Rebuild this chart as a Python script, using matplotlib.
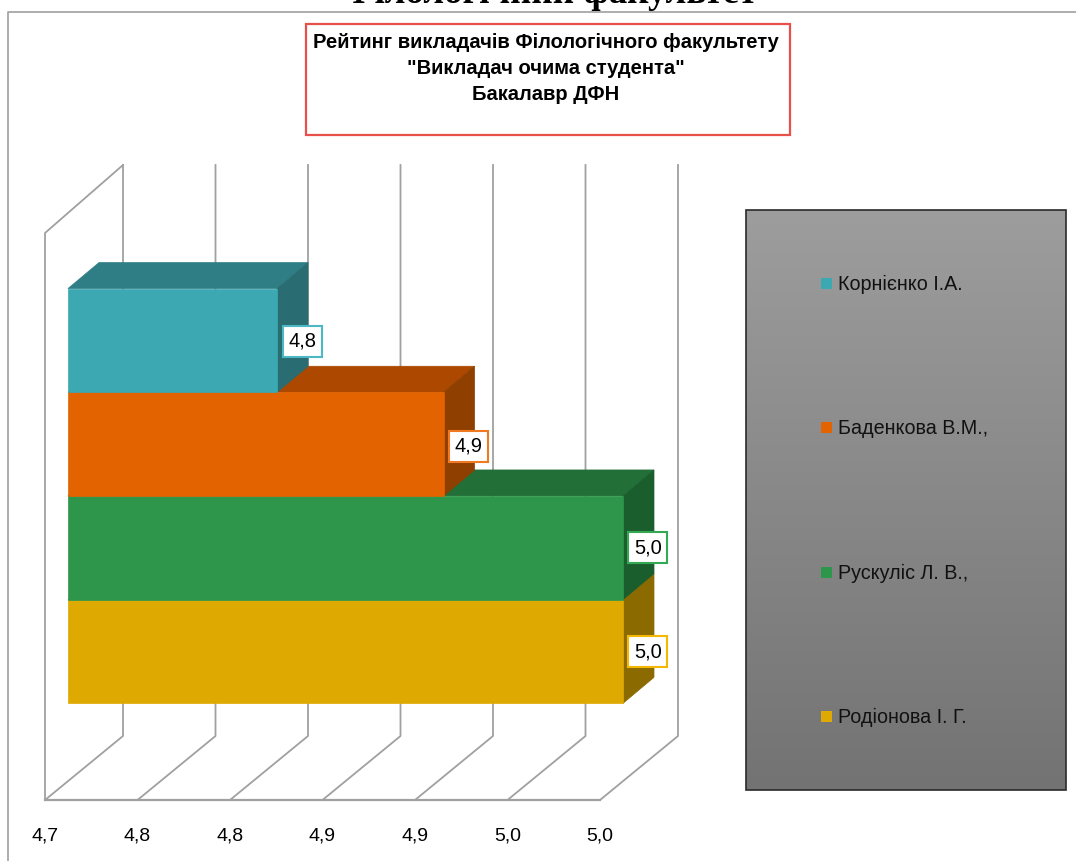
import numpy as np
import matplotlib
matplotlib.use('Agg')
import matplotlib.pyplot as plt
from matplotlib.patches import Polygon, Rectangle

plt.rcParams['font.family'] = ['Liberation Sans', 'DejaVu Sans']

# Data, top bar first
teachers = ['Корнієнко І.А.', 'Баденкова В.М.,', 'Рускуліс Л. В.,', 'Родіонова І. Г.']
scores = [4.813, 4.903, 5.0, 5.0]
score_labels = ['4,8', '4,9', '5,0', '5,0']
tick_values = [4.7, 4.75, 4.8, 4.85, 4.9, 4.95, 5.0]
tick_labels = ['4,7', '4,8', '4,8', '4,9', '4,9', '5,0', '5,0']
front_colors = ['#3ba8b2', '#e26300', '#2e964b', '#dea900']
top_colors = ['#2f7e86', '#ac4800', '#236f38', '#a88000']
side_colors = ['#296c72', '#8f3f00', '#1b5e2e', '#8b6a00']
label_edges = ['#4bb8c4', '#f07a22', '#35a853', '#f5b800']

W, H = 1076, 861
PX_PER_VALUE = 1850.0   # 92.5 px per 0.05
PX_PER_BAR = 103.7
x_base = 4.7 - 68 / PX_PER_VALUE   # value at the left image edge
y_base = 651.5 / PX_PER_BAR        # bar slot at the top image edge

fig = plt.figure(figsize=(W / 100, H / 100), dpi=100)
ax = fig.add_axes([0, 0, 1, 1])
ax.set_xlim(x_base, x_base + W / PX_PER_VALUE)
ax.set_ylim(y_base - H / PX_PER_BAR, y_base)
ax.axis('off')


# helpers to place layout items given in image pixels
def px(x):
    return x_base + x / PX_PER_VALUE


def py(y):
    return y_base - y / PX_PER_BAR


dep_x = 31 / PX_PER_VALUE
dep_y = 26 / PX_PER_BAR

# outer frame of the chart: only left and top show
ax.plot([px(8), px(8), px(W + 5)], [py(H + 5), py(11.5), py(11.5)], color='#a0a0a0', lw=1.2, zorder=1)

# heading cut off by the top edge
ax.text(px(550), py(3), 'Філологічний факультет', family=['Liberation Serif'], weight='bold',
        fontsize=26.6, ha='center', va='baseline', color='black', zorder=2)

# title box
ax.add_patch(Rectangle((px(306), py(135)), 484 / PX_PER_VALUE, 111 / PX_PER_BAR,
                       fc='white', ec='#e8504a', lw=1.6, zorder=2))
title_lines = ['Рейтинг викладачів Філологічного факультету', '"Викладач очима студента"', 'Бакалавр ДФН']
for line, y in zip(title_lines, [43, 69, 95]):
    ax.text(px(546), py(y), line, weight='bold', fontsize=14.5, ha='center', va='center',
            color='black', zorder=3)

# walls and gridlines
grid = '#a0a0a0'
floor_shift = 23 / PX_PER_VALUE
back_x = 78 / PX_PER_VALUE
floor_front, floor_back = py(800), py(736)
wall_top = py(165)
for v in tick_values:
    f = v - floor_shift
    ax.plot([f, f + back_x, f + back_x], [floor_front, floor_back, wall_top], color=grid, lw=1.3, zorder=2)
f0 = tick_values[0] - floor_shift
ax.plot([f0, f0, f0 + back_x], [floor_front, py(233), wall_top], color=grid, lw=1.3, zorder=2)
ax.plot([f0, tick_values[-1] - floor_shift], [floor_front, floor_front], color=grid, lw=1.6, zorder=2)

for v, lab in zip(tick_values, tick_labels):
    ax.text(v - floor_shift, py(836), lab, fontsize=14, ha='center', va='center', color='black')

# bars, drawn from the bottom one up so each covers the one below
n = len(scores)
for i in reversed(range(n)):
    val = scores[i]
    y0 = n - 1 - i - 0.5
    y1 = y0 + 1
    x0 = tick_values[0]
    z = 3 + (n - i) * 0.1
    ax.add_patch(Polygon([(x0, y1), (val, y1), (val + dep_x, y1 + dep_y), (x0 + dep_x, y1 + dep_y)],
                         fc=top_colors[i], ec=top_colors[i], lw=0.5, zorder=z))
    ax.add_patch(Polygon([(val, y0), (val + dep_x, y0 + dep_y), (val + dep_x, y1 + dep_y), (val, y1)],
                         fc=side_colors[i], ec=side_colors[i], lw=0.5, zorder=z))
    ax.barh(y0 + 0.5, val - x0, height=1.0, left=x0, color=front_colors[i],
            edgecolor=front_colors[i], lw=0.5, zorder=z)

# value labels
box_w = 39 / PX_PER_VALUE
box_h = 31 / PX_PER_BAR
lab_off = 25 / PX_PER_VALUE
lab_nudge = [-1 / PX_PER_BAR, -2 / PX_PER_BAR, 0, 0]
for i in range(n):
    cx = scores[i] + lab_off
    cy = n - 1 - i + lab_nudge[i]
    ax.add_patch(Rectangle((cx - box_w / 2, cy - box_h / 2), box_w, box_h, fc='white',
                           ec=label_edges[i], lw=1.5, zorder=5))
    ax.text(cx, cy, score_labels[i], fontsize=14.5, ha='center', va='center', color='black', zorder=6)

# legend panel with vertical gradient
gradient = np.linspace(0, 1, 256).reshape(-1, 1)
legend_ext = [px(746), px(1066), py(790), py(210)]
ax.imshow(gradient, extent=legend_ext, cmap=matplotlib.colors.LinearSegmentedColormap.from_list(
    'panel', ['#737373', '#9d9d9d']), origin='lower', aspect='auto', zorder=2)
ax.set_xlim(x_base, x_base + W / PX_PER_VALUE)
ax.set_ylim(y_base - H / PX_PER_BAR, y_base)
ax.add_patch(Rectangle((legend_ext[0], legend_ext[2]), 320 / PX_PER_VALUE, 580 / PX_PER_BAR,
                       fc='none', ec='#2a2a2a', lw=1.2, zorder=3))
for i, name in enumerate(teachers):
    y = 283 + i * 144.6
    ax.add_patch(Rectangle((px(821), py(y + 5.5)), 11 / PX_PER_VALUE, 11 / PX_PER_BAR,
                           fc=front_colors[i], ec='none', zorder=4))
    ax.text(px(838), py(y + 1), name, fontsize=14.2, ha='left', va='center', color='#111111', zorder=4)

fig.savefig('out.png', dpi=100)
